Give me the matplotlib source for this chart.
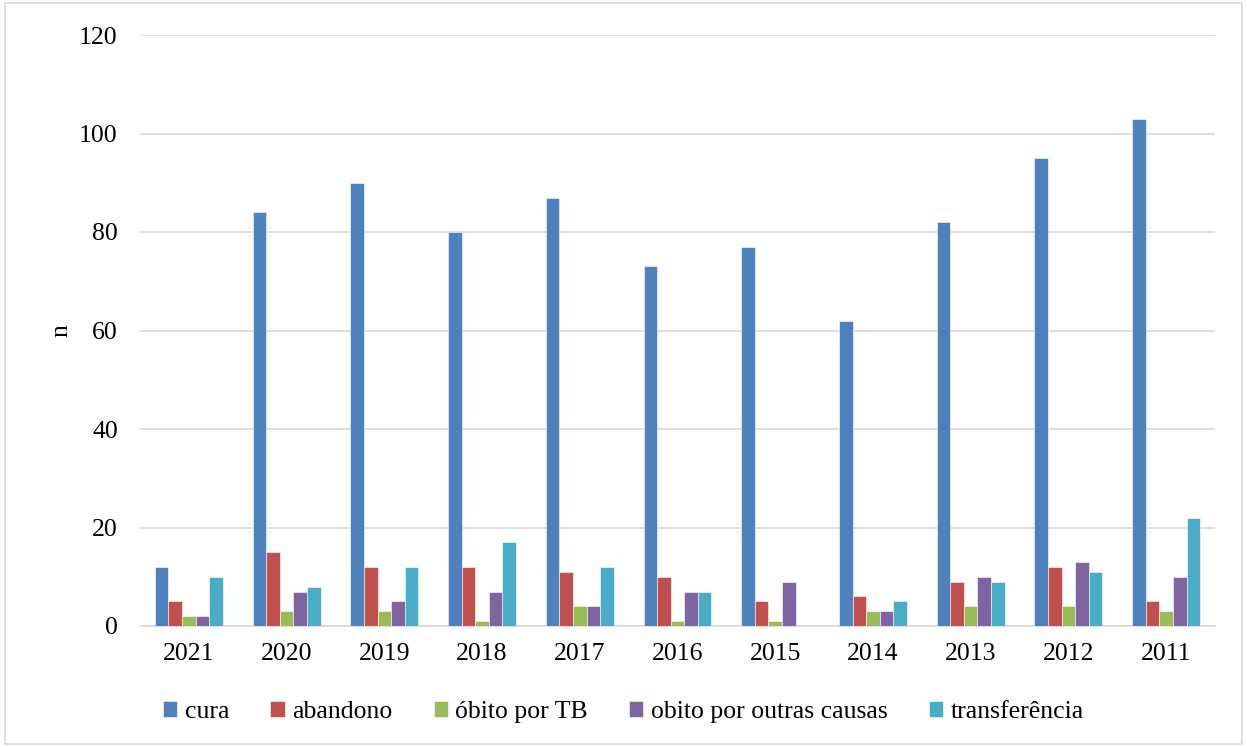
import numpy as np
import matplotlib.pyplot as plt
from matplotlib.patches import Rectangle

plt.rcParams['font.family'] = ['Liberation Serif', 'DejaVu Serif']

anos = ['2021', '2020', '2019', '2018', '2017', '2016', '2015', '2014', '2013', '2012', '2011']
cura = [12, 84, 90, 80, 87, 73, 77, 62, 82, 95, 103]
abandono = [5, 15, 12, 12, 11, 10, 5, 6, 9, 12, 5]
obito_tb = [2, 3, 3, 1, 4, 1, 1, 3, 4, 4, 3]
obito_outras = [2, 7, 5, 7, 4, 7, 9, 3, 10, 13, 10]
transferencia = [10, 8, 12, 17, 12, 7, 0, 5, 9, 11, 22]

series = [
    ('cura', cura, '#4f81bd'),
    ('abandono', abandono, '#c0504d'),
    ('óbito por TB', obito_tb, '#9bbb59'),
    ('obito por outras causas', obito_outras, '#8064a2'),
    ('transferência', transferencia, '#4bacc6'),
]

fig = plt.figure(figsize=(12.47, 7.47), dpi=100)
ax = fig.add_axes([140 / 1247, 1 - 626 / 747, 1075 / 1247, 591 / 747])

# moldura externa do gráfico
fig.patches.append(Rectangle((0.004, 0.004), 0.992, 0.992, transform=fig.transFigure,
                             fill=False, edgecolor='#d9d9d9', linewidth=1.2))

x = np.arange(len(anos))
w = 0.139
for i, (nome, vals, cor) in enumerate(series):
    ax.bar(x + (i - 2) * w, vals, w, color=cor, label=nome,
           edgecolor='white', linewidth=0.4, zorder=3)

ax.set_xlim(-0.5, len(anos) - 0.5)
ax.set_ylim(0, 120)
ax.set_yticks(range(0, 121, 20))
ax.set_xticks(x)
ax.set_xticklabels(anos)
ax.tick_params(length=0, labelsize=18.5, colors='black')
ax.tick_params(axis='x', pad=12)
ax.tick_params(axis='y', pad=16)
ax.grid(axis='y', color='#d9d9d9', linewidth=1.2, zorder=0)
for s in ['top', 'right', 'left']:
    ax.spines[s].set_visible(False)
ax.spines['bottom'].set_color('#d9d9d9')
ax.spines['bottom'].set_linewidth(1.2)
ax.set_ylabel('n', fontsize=18.5, labelpad=5)

fig.legend(loc='center', bbox_to_anchor=(0.5, 1 - 712 / 747), ncol=5, frameon=False,
           fontsize=18.5, handlelength=0.55, handleheight=0.55, handletextpad=0.3,
           columnspacing=1.6)

fig.savefig('out.png', dpi=100)
